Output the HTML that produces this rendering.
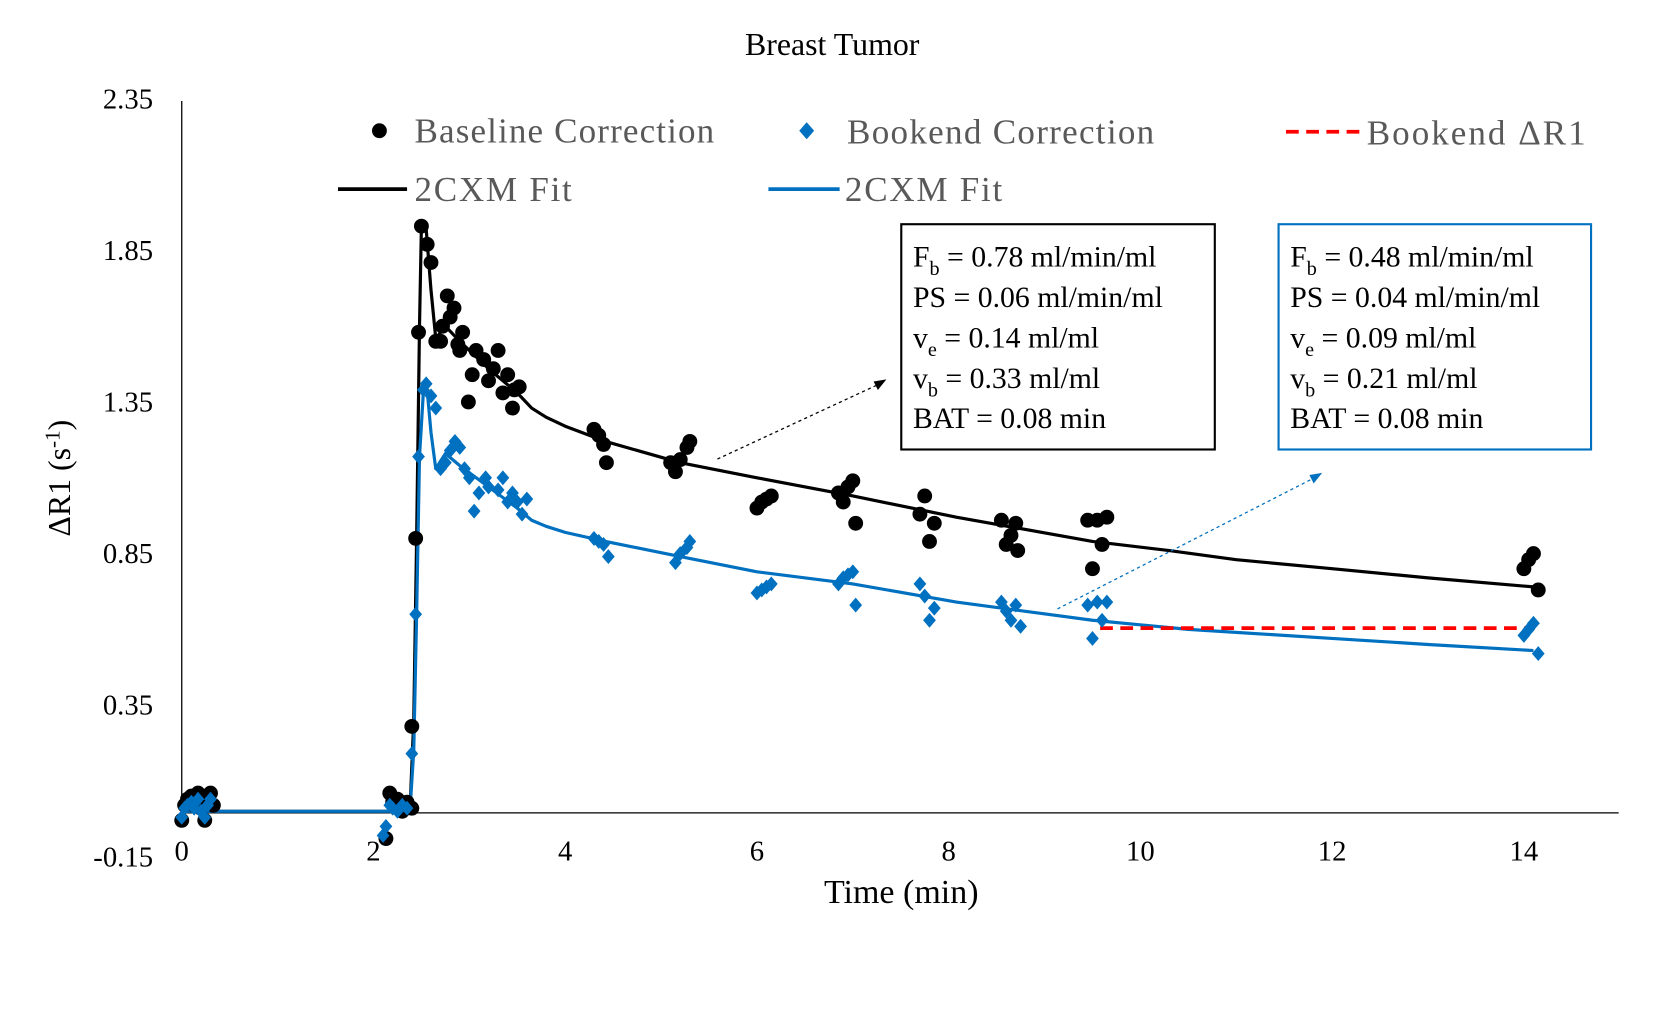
<!DOCTYPE html>
<html><head><meta charset="utf-8"><style>
html,body{margin:0;padding:0;background:#fff;}
svg{display:block;font-family:"Liberation Serif",serif;}
</style></head><body>
<svg id="chart" width="1658" height="1018" viewBox="0 0 1560 958" preserveAspectRatio="none" xmlns="http://www.w3.org/2000/svg">
<rect width="1560" height="958" fill="#fff"/>
<text x="783" y="52" font-size="30" text-anchor="middle">Breast Tumor</text>
<line x1="171" y1="95" x2="171" y2="765" stroke="#000" stroke-width="1.2"/>
<line x1="171" y1="765" x2="1523" y2="765" stroke="#000" stroke-width="1.2"/>
<g id="yticks"></g><g id="xticks"></g>
<text transform="translate(66,450) rotate(-90)" font-size="30" text-anchor="middle">ΔR1 (s<tspan dy="-10" font-size="20">-1</tspan><tspan dy="10">)</tspan></text>
<text x="848" y="850" font-size="32" text-anchor="middle">Time (min)</text>
<g id="plot"></g>
<g font-size="33" fill="#595959">
<circle cx="357" cy="123" r="7" fill="#000"/>
<text x="390" y="134" textLength="282">Baseline Correction</text>
<path d="M759 115 L766 123 L759 131 L752 123Z" fill="#0070c0"/>
<text x="797" y="135" textLength="289">Bookend Correction</text>
<line x1="1210" y1="124" x2="1280" y2="124" stroke="#ff0000" stroke-width="3.5" stroke-dasharray="12,7"/>
<text x="1286" y="136" textLength="206">Bookend ΔR1</text>
<line x1="318" y1="178" x2="383" y2="178" stroke="#000" stroke-width="3.5"/>
<text x="390" y="189" textLength="148">2CXM Fit</text>
<line x1="723" y1="178" x2="790" y2="178" stroke="#0070c0" stroke-width="3.5"/>
<text x="795" y="189" textLength="148">2CXM Fit</text>
</g>
<g font-size="28">
<rect x="848" y="211" width="295" height="212" fill="#fff" stroke="#000" stroke-width="2"/>
<text x="859" y="251">F<tspan dy="8" font-size="19">b</tspan><tspan dy="-8"> = 0.78 ml/min/ml</tspan></text>
<text x="859" y="289">PS = 0.06 ml/min/ml</text>
<text x="859" y="327">v<tspan dy="8" font-size="19">e</tspan><tspan dy="-8"> = 0.14 ml/ml</tspan></text>
<text x="859" y="365">v<tspan dy="8" font-size="19">b</tspan><tspan dy="-8"> = 0.33 ml/ml</tspan></text>
<text x="859" y="403">BAT = 0.08 min</text>
</g>
<g font-size="28">
<rect x="1203" y="211" width="294" height="212" fill="#fff" stroke="#0070c0" stroke-width="2"/>
<text x="1214" y="251">F<tspan dy="8" font-size="19">b</tspan><tspan dy="-8"> = 0.48 ml/min/ml</tspan></text>
<text x="1214" y="289">PS = 0.04 ml/min/ml</text>
<text x="1214" y="327">v<tspan dy="8" font-size="19">e</tspan><tspan dy="-8"> = 0.09 ml/ml</tspan></text>
<text x="1214" y="365">v<tspan dy="8" font-size="19">b</tspan><tspan dy="-8"> = 0.21 ml/ml</tspan></text>
<text x="1214" y="403">BAT = 0.08 min</text>
</g>
<line x1="675" y1="432" x2="826" y2="362" stroke="#000" stroke-width="1.2" stroke-dasharray="3,3"/>
<path d="M834 357 L822 359 L826 367Z" fill="#000"/>
<line x1="995" y1="573" x2="1236" y2="450" stroke="#0070c0" stroke-width="1.2" stroke-dasharray="3,3"/>
<path d="M1244 445 L1232 447 L1236 455Z" fill="#0070c0"/>
</svg>
<script>
const yTicks=[2.35,1.85,1.35,0.85,0.35,-0.15];
const yTickLabels=["2.35","1.85","1.35","0.85","0.35","-0.15"];
const xTicks=[0,2,4,6,8,10,12,14];
const xTickLabels=["0","2","4","6","8","10","12","14"];
const blackFitT=[0,2.38,2.42,2.45,2.48,2.5,2.55,2.6,2.65,2.75,2.9,3.2,3.5,3.65,3.8,4.0,4.42,5.2,6,7,8.08,9.5,10.3,11,12,13,14.1];
const blackFitV=[0,0,0.3,0.9,1.6,1.93,1.92,1.72,1.56,1.6,1.55,1.46,1.38,1.33,1.3,1.27,1.22,1.15,1.1,1.04,0.97,0.89,0.86,0.83,0.8,0.77,0.74];
const blueFitT=[0,2.38,2.42,2.45,2.48,2.52,2.56,2.6,2.65,2.75,2.9,3.2,3.5,3.65,3.8,4.0,4.42,5.2,6,7,8.08,9.5,10.5,12,13,14.1];
const blueFitV=[0,0,0.2,0.65,1.17,1.38,1.39,1.25,1.13,1.18,1.14,1.07,1.0,0.96,0.94,0.92,0.89,0.84,0.79,0.75,0.69,0.63,0.6,0.57,0.55,0.53];
const baseT=[0,0.03,0.06,0.1,0.13,0.17,0.2,0.24,0.27,0.3,0.33,0.22,2.13,2.17,2.2,2.25,2.3,2.35,2.4,2.4,2.44,2.47,2.5,2.56,2.6,2.65,2.7,2.72,2.77,2.8,2.84,2.88,2.93,2.9,3.03,3.07,2.99,3.15,3.2,3.25,3.3,3.35,3.4,3.45,3.47,3.52,4.3,4.35,4.4,4.43,5.1,5.15,5.2,5.27,5.3,6.0,6.05,6.1,6.15,6.85,6.9,6.95,7.0,7.03,7.7,7.75,7.8,7.85,8.55,8.6,8.65,8.7,8.72,9.45,9.5,9.55,9.6,9.65,14.0,14.05,14.1,14.15];
const baseV=[-0.03,0.02,0.04,0.05,0.02,0.06,0.01,-0.03,0.04,0.06,0.02,0.05,-0.09,0.06,0.03,0.04,0.0,0.03,0.01,0.28,0.9,1.58,1.93,1.87,1.81,1.55,1.55,1.6,1.7,1.63,1.66,1.54,1.58,1.52,1.44,1.52,1.35,1.49,1.42,1.46,1.52,1.38,1.44,1.33,1.39,1.4,1.26,1.24,1.21,1.15,1.15,1.12,1.16,1.2,1.22,1.0,1.02,1.03,1.04,1.05,1.02,1.07,1.09,0.95,0.98,1.04,0.89,0.95,0.96,0.88,0.91,0.95,0.86,0.96,0.8,0.96,0.88,0.97,0.8,0.83,0.85,0.73];
const bookT=[0,0.03,0.06,0.1,0.13,0.17,0.2,0.24,0.27,0.3,2.1,2.13,2.17,2.2,2.25,2.3,2.35,2.4,2.44,2.47,2.52,2.55,2.6,2.65,2.7,2.75,2.8,2.85,2.9,2.95,3.0,3.05,3.1,3.17,3.2,3.3,3.35,3.4,3.45,3.5,3.55,3.6,4.3,4.35,4.4,4.45,5.15,5.2,5.27,5.3,6.0,6.05,6.1,6.15,6.85,6.9,6.95,7.0,7.03,7.7,7.75,7.8,7.85,8.55,8.6,8.65,8.7,8.75,9.45,9.5,9.55,9.6,9.65,14.0,14.05,14.1,14.15];
const bookV=[-0.02,0.01,0.02,0.03,0.01,0.04,0.0,-0.02,0.02,0.04,-0.08,-0.05,0.02,0.01,0.0,0.02,0.01,0.19,0.65,1.17,1.39,1.41,1.37,1.33,1.13,1.15,1.19,1.22,1.2,1.13,1.1,0.99,1.05,1.1,1.07,1.06,1.1,1.02,1.05,1.02,0.98,1.03,0.9,0.89,0.88,0.84,0.82,0.85,0.87,0.89,0.72,0.73,0.74,0.75,0.75,0.77,0.78,0.79,0.68,0.75,0.71,0.63,0.67,0.69,0.66,0.63,0.68,0.61,0.68,0.57,0.69,0.63,0.69,0.58,0.6,0.62,0.52];
const dr1T=[9.58,14.05];
const dr1V=[0.604,0.604];

const NS="http://www.w3.org/2000/svg";
function X(t){return 171+t*90.2;}
function Y(v){return 93+(2.35-v)*285.3;}
function mk(tag,attrs,parent){const e=document.createElementNS(NS,tag);for(const k in attrs)e.setAttribute(k,attrs[k]);parent.appendChild(e);return e;}
const yt=document.getElementById('yticks'),xt=document.getElementById('xticks'),plot=document.getElementById('plot');
yTicks.forEach((v,i)=>{const t=mk('text',{x:144,y:Y(v)+9,'font-size':27,'text-anchor':'end'},yt);t.textContent=yTickLabels[i];

});
xTicks.forEach((v,i)=>{const t=mk('text',{x:X(v),y:810,'font-size':27,'text-anchor':'middle'},xt);t.textContent=xTickLabels[i];

});
function line(T,V,attrs){const d=T.map((t,i)=>(i?'L':'M')+X(t).toFixed(1)+' '+Y(V[i]).toFixed(1)).join(' ');return mk('path',Object.assign({d:d,fill:'none'},attrs),plot);}
const bf=line(blackFitT,blackFitV,{stroke:'#000','stroke-width':3,'stroke-linejoin':'round'});


const uf=line(blueFitT,blueFitV,{stroke:'#0070c0','stroke-width':3,'stroke-linejoin':'round'});


const rd=line(dr1T,dr1V,{stroke:'#ff0000','stroke-width':3.5,'stroke-dasharray':'12,7'});


baseT.forEach((t,i)=>{const c=mk('circle',{cx:X(t),cy:Y(baseV[i]),r:7,fill:'#000'},plot);

});
bookT.forEach((t,i)=>{const x=X(t),y=Y(bookV[i]);const p=mk('path',{d:`M${x} ${y-7}L${x+6} ${y}L${x} ${y+7}L${x-6} ${y}Z`,fill:'#0070c0'},plot);

});
</script>
</body></html>
